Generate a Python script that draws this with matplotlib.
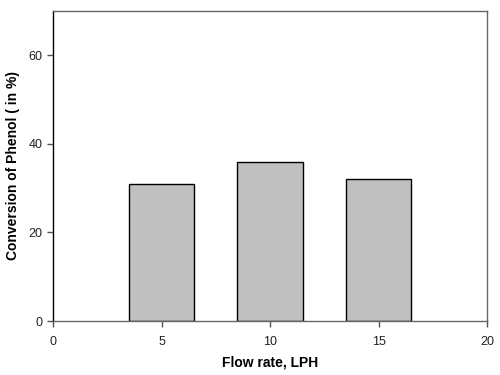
import matplotlib
matplotlib.use("Agg")
import matplotlib.pyplot as plt

plt.rcParams['font.family'] = ['Liberation Sans', 'DejaVu Sans']

# data
flow_rate = [5, 10, 15]
conversion = [31, 36, 32]

fig = plt.figure(figsize=(5, 3.75), dpi=100)
ax = fig.add_axes([0.106, 0.144, 0.868, 0.827])

ax.bar(flow_rate, conversion, width=3, color='#c0c0c0', edgecolor='black', linewidth=1)

ax.set_xlim(0, 20)
ax.set_ylim(0, 70)
ax.set_xticks([0, 5, 10, 15, 20])
ax.set_yticks([0, 20, 40, 60])
ax.tick_params(direction='out', length=4, width=1, labelsize=9, colors='#555555', labelcolor='#222222')
ax.tick_params(axis='x', pad=7)

for side in ['bottom', 'top', 'right']:
    ax.spines[side].set_color('#666666')
ax.spines['left'].set_color('black')
for s in ax.spines.values():
    s.set_linewidth(1)

ax.set_xlabel('Flow rate, LPH', fontsize=10, fontweight='bold', labelpad=5)
ax.set_ylabel('Conversion of Phenol ( in %)', fontsize=10, fontweight='bold', labelpad=6)

fig.savefig('out.png', dpi=100)
